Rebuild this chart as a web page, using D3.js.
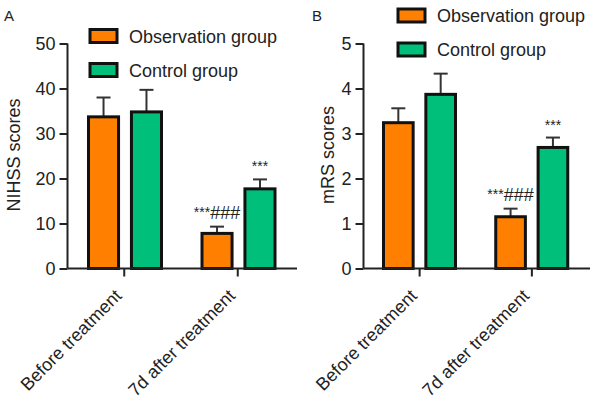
<!DOCTYPE html>
<html><head><meta charset="utf-8">
<script src="https://cdn.jsdelivr.net/npm/d3@7/dist/d3.min.js"></script>
<style>
body{margin:0;background:#fff;}
text{font-family:"Liberation Sans",Arial,sans-serif;fill:#222;}
</style></head>
<body><svg id="chart" width="594" height="401"></svg>
<script>
const categories = ["Before treatment", "7d after treatment"];
const seriesNames = ["Observation group", "Control group"];
const colors = ["#FF8000", "#00BF7A"];

// Panel A: NIHSS
const nihssMean = [[33.7, 7.8], [34.8, 17.7]];   // [series][category]
const nihssErr  = [[38.0, 9.3], [39.7, 19.8]];   // top of error bars
const nihssTicks = [0, 10, 20, 30, 40, 50];
const nihssSig = [["", "***###"], ["", "***"]];

// Panel B: mRS
const mrsMean = [[3.24, 1.15], [3.87, 2.69]];
const mrsErr  = [[3.56, 1.33], [4.33, 2.91]];
const mrsTicks = [0, 1, 2, 3, 4, 5];
const mrsSig = [["", "***###"], ["", "***"]];

const svg = d3.select("#chart");

function panel(o) {
  const g = svg.append("g");
  const y = d3.scaleLinear().domain([0, o.ymax]).range([268.5, 43.5]);
  const x = d3.scaleBand().domain(categories).range([o.x0, o.x1]).padding(0);
  const xi = d3.scaleBand().domain(seriesNames).range([o.in0, o.in1]).paddingInner(0.3).paddingOuter(0);

  // bars
  seriesNames.forEach((s, si) => {
    categories.forEach((c, ci) => {
      const bx = x(c) + xi(s);
      const bw = xi.bandwidth();
      const cx = bx + bw / 2;
      // error bar
      g.append("line").attr("x1", cx).attr("x2", cx)
        .attr("y1", y(o.mean[si][ci])).attr("y2", y(o.err[si][ci]))
        .attr("stroke", "#333").attr("stroke-width", 2);
      g.append("line").attr("x1", cx - 7).attr("x2", cx + 7)
        .attr("y1", y(o.err[si][ci])).attr("y2", y(o.err[si][ci]))
        .attr("stroke", "#333").attr("stroke-width", 2);
      g.append("rect").attr("x", bx).attr("width", bw)
        .attr("y", y(o.mean[si][ci])).attr("height", y(0) - y(o.mean[si][ci]))
        .attr("fill", colors[si]).attr("stroke", "#111").attr("stroke-width", 3);
      const sig = o.sig[si][ci];
      if (sig) {
        const m = sig.match(/^(\**)(#*)$/);
        const t = g.append("text").attr("x", cx)
          .attr("y", y(o.err[si][ci]) - 8).attr("text-anchor", "middle")
          .style("font-size", "18px");
        if (m[1]) t.append("tspan").text(m[1]).style("font-size", "14px").attr("dy", m[2] ? "-0.15em" : "0");
        if (m[2]) t.append("tspan").text(m[2]).attr("dy", m[1] ? "0.15em" : "0");
      }
    });
  });

  // y axis
  const ya = g.append("g").attr("transform", `translate(${o.x0},0)`)
    .call(d3.axisLeft(y).tickValues(o.ticks).tickSize(8).tickPadding(4).tickFormat(d3.format("d")));
  ya.select(".domain").attr("stroke", "#222").attr("stroke-width", 2).attr("d", `M0,${y(0)}V${y(o.ymax)}`);
  ya.selectAll(".tick line").attr("stroke", "#222").attr("stroke-width", 2);
  ya.selectAll(".tick text").style("font-size", "18px").attr("fill", "#222");

  // x axis
  const xa = g.append("g").attr("transform", `translate(0,${y(0)})`)
    .call(d3.axisBottom(x).tickSize(8).tickFormat(""));
  xa.select(".domain").attr("stroke", "#222").attr("stroke-width", 2).attr("d", `M${o.x0},0H${o.xend}`);
  xa.selectAll(".tick line").attr("stroke", "#222").attr("stroke-width", 2);
  categories.forEach(c => {
    const tx = x(c) + x.bandwidth() / 2;
    g.append("text").attr("transform", `translate(${tx - 6},${y(0) + 24}) rotate(-45)`)
      .attr("text-anchor", "end").attr("dy", "0.35em").style("font-size", "18px").text(c);
  });

  // axis title
  g.append("text").attr("transform", `translate(${o.titleX},155) rotate(-90)`)
    .attr("text-anchor", "middle").style("font-size", "18px").text(o.title);

  // panel label
  g.append("text").attr("x", o.labelX).attr("y", 21).style("font-size", "15px").text(o.label);

  // legend
  seriesNames.forEach((s, i) => {
    const ly = o.legY + i * 34;
    g.append("rect").attr("x", o.legX).attr("y", ly).attr("width", 27).attr("height", 13)
      .attr("fill", colors[i]).attr("stroke", "#111").attr("stroke-width", 3);
    g.append("text").attr("x", o.legX + 39).attr("y", ly + 13).style("font-size", "18px").text(s);
  });
}

panel({x0: 67.5, x1: 294.5, xend: 297, in0: 21, in1: 94, ymax: 50, mean: nihssMean, err: nihssErr,
  ticks: nihssTicks, sig: nihssSig, title: "NIHSS scores", titleX: 20, label: "A", labelX: 4, legX: 90, legY: 29.5});
panel({x0: 363.5, x1: 588, xend: 590, in0: 20, in1: 92, ymax: 5, mean: mrsMean, err: mrsErr,
  ticks: mrsTicks, sig: mrsSig, title: "mRS scores", titleX: 334, label: "B", labelX: 312, legX: 398, legY: 9});
</script></body></html>
